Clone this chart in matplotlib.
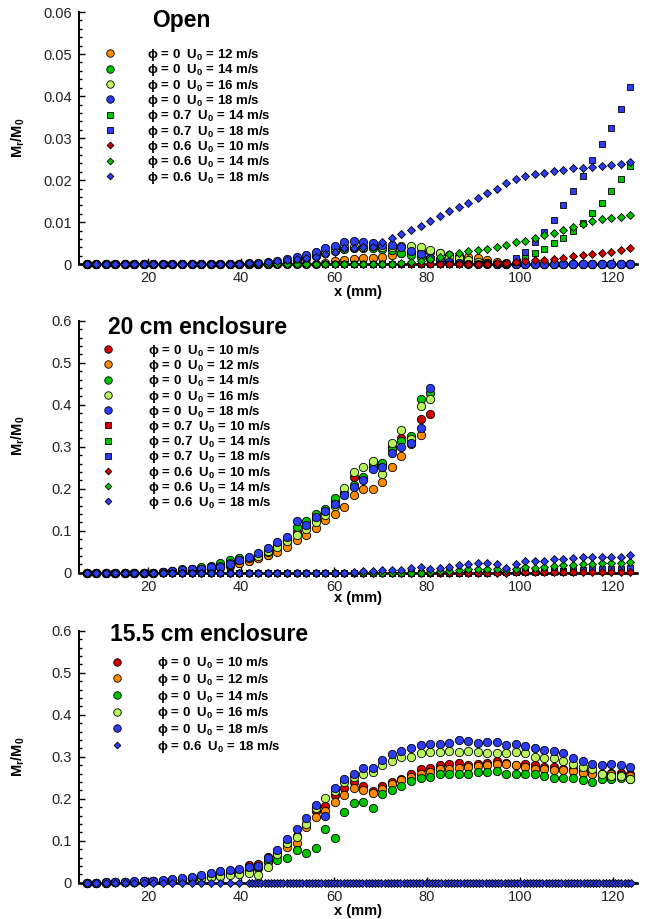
import matplotlib.pyplot as plt
import matplotlib.ticker as mticker
import numpy as np

plt.rcParams.update({
    'font.family': ['Liberation Sans', 'DejaVu Sans'],
    'mathtext.fontset': 'custom',
    'mathtext.rm': 'Liberation Sans',
    'mathtext.bf': 'Liberation Sans:bold',
    'axes.unicode_minus': False,
})

# probe stations along the jet axis (mm)
X = [6.7, 8.8, 10.8, 12.9, 14.9, 17.0, 19.0, 21.1, 23.1, 25.2,
     27.2, 29.3, 31.3, 33.4, 35.4, 37.5, 39.5, 41.6, 43.7, 45.7,
     47.8, 49.8, 51.9, 53.9, 56.0, 58.0, 60.1, 62.1, 64.2, 66.2,
     68.3, 70.3, 72.4, 74.4, 76.5, 78.6, 80.6, 82.7, 84.7, 86.8,
     88.8, 90.9, 92.9, 95.0, 97.0, 99.1, 101.1, 103.2, 105.2, 107.3,
     109.3, 111.4, 113.5, 115.5, 117.6, 119.6, 121.7, 123.7]

# ---------------- Open ----------------
open_p0_u12 = [0, 0, 0, 0, 0, 0, 0, 0, 0, 0,
               0, 0, 0, 0, 0, 0, 0, 0, 0, 0,
               0, 0, 0, 0, 0, .0004, .0007, .0010, .0012, .0014,
               .0015, .0018, .0021, .0026, .0029, .0030, .0030, .0027, .0023, .0019,
               .0017, .0014, .0010, .0006, .0003, 0, 0, 0, 0, 0,
               0, 0, 0, 0, 0, 0, 0, 0]
open_p0_u14 = [0, 0, 0, 0, 0, 0, 0, 0, 0, 0,
               0, 0, 0, 0, 0, 0, 0, 0, 0, 0,
               .0003, .0006, .0010, .0015, .0020, .0026, .0032, .0036, .0038, .0039,
               .0038, .0036, .0033, .0028, .0022, .0018, .0014, .0011, .0009, .0007,
               .0005, .0003, .0002, 0, 0, 0, 0, 0, 0, 0,
               0, 0, 0, 0, 0, 0, 0, 0]
open_p0_u16 = [0, 0, 0, 0, 0, 0, 0, 0, 0, 0,
               0, 0, 0, 0, 0, 0, 0, 0, 0, 0,
               .0004, .0008, .0012, .0017, .0022, .0028, .0034, .0040, .0041, .0042,
               .0043, .0042, .0041, .0043, .0043, .0040, .0034, .0028, .0020, .0014,
               .0010, .0006, .0003, 0, 0, 0, 0, 0, 0, 0,
               0, 0, 0, 0, 0, 0, 0, 0]
open_p0_u18 = [0, 0, 0, 0, 0, 0, 0, 0, 0, 0,
               0, 0, 0, 0, 0, 0, 0, .0003, .0004, .0006,
               .0009, .0013, .0018, .0023, .0030, .0038, .0044, .0052, .0056, .0054,
               .0051, .0047, .0045, .0040, .0032, .0024, .0016, .0010, .0006, .0003,
               0, 0, 0, 0, 0, 0, 0, 0, 0, 0,
               0, 0, 0, 0, 0, 0, 0, 0]
open_p07_u14 = [0, 0, 0, 0, 0, 0, 0, 0, 0, 0,
                0, 0, 0, 0, 0, 0, 0, 0, 0, 0,
                0, 0, 0, 0, 0, 0, 0, 0, 0, 0,
                0, 0, 0, 0, 0, 0, 0, 0, 0, 0,
                0, 0, 0, 0, 0, .0005, .0014, .0026, .0037, .0050,
                .0062, .0079, .0099, .0121, .0145, .0174, .0203, .0233]
open_p07_u18 = [0, 0, 0, 0, 0, 0, 0, 0, 0, 0,
                0, 0, 0, 0, 0, 0, 0, 0, 0, 0,
                0, 0, 0, 0, 0, 0, 0, 0, 0, 0,
                0, 0, 0, 0, 0, 0, 0, 0, 0, 0,
                0, 0, 0, 0, .0003, .0016, .0030, .0052, .0078, .0105,
                .0141, .0174, .0211, .0248, .0286, .0324, .0370, .0421]
open_p06_u10 = [0, 0, 0, 0, 0, 0, 0, 0, 0, 0,
                0, 0, 0, 0, 0, 0, 0, 0, 0, 0,
                0, 0, 0, 0, 0, 0, 0, 0, 0, 0,
                0, 0, 0, 0, 0, 0, 0, 0, 0, 0,
                0, 0, 0, .0002, .0003, .0005, .0007, .0010, .0011, .0013,
                .0015, .0019, .0021, .0024, .0027, .0030, .0033, .0038]
open_p06_u14 = [0, 0, 0, 0, 0, 0, 0, 0, 0, 0,
                0, 0, 0, 0, 0, 0, 0, 0, 0, 0,
                0, 0, 0, 0, 0, 0, 0, 0, 0, 0,
                0, 0, 0, .0003, .0006, .0009, .0013, .0018, .0024, .0028,
                .0031, .0035, .0037, .0042, .0047, .0052, .0055, .0063, .0069, .0075,
                .0082, .0088, .0097, .0102, .0107, .0110, .0112, .0117]
open_p06_u18 = [0, 0, 0, 0, 0, 0, 0, 0, 0, 0,
                0, 0, 0, 0, 0, 0, 0, .0002, .0004, .0006,
                .0008, .0010, .0013, .0016, .0018, .0024, .0030, .0038, .0038, .0040,
                .0042, .0052, .0063, .0071, .0082, .0092, .0103, .0114, .0126, .0136,
                .0145, .0158, .0169, .0178, .0193, .0202, .0209, .0215, .0217, .0223,
                .0225, .0229, .0230, .0231, .0235, .0237, .0239, .0243]

# ---------------- 20 cm enclosure ----------------
mid_p0_u10 = [0, 0, 0, 0, 0, 0, 0, 0, .001, .002,
              .004, .006, .008, .010, .013, .017, .022, .028, .034, .042,
              .058, .072, .098, .112, .130, .148, .170, .188, .227, .225,
              .262, .258, .300, .320, .312, .367, .378]
mid_p0_u12 = [0, 0, 0, 0, 0, 0, 0, 0, .001, .002,
              .004, .006, .008, .010, .014, .018, .022, .028, .034, .042,
              .050, .062, .079, .090, .106, .125, .139, .157, .186, .199,
              .199, .217, .252, .279, .306, .328]
mid_p0_u14 = [0, 0, 0, 0, 0, 0, 0, 0, .002, .004,
              .008, .010, .013, .016, .022, .030, .034, .036, .042, .050,
              .066, .079, .108, .122, .139, .151, .179, .190, .210, .228,
              .255, .262, .295, .314, .326, .414, .427]
mid_p0_u16 = [0, 0, 0, 0, 0, 0, 0, 0, .001, .003,
              .005, .008, .010, .012, .016, .024, .030, .034, .040, .052,
              .062, .075, .090, .105, .121, .137, .160, .201, .241, .252,
              .267, .235, .310, .340, .318, .397, .414]
mid_p0_u18 = [0, 0, 0, 0, 0, 0, 0, 0, .002, .004,
              .006, .008, .010, .013, .014, .020, .030, .038, .046, .058,
              .072, .085, .124, .114, .133, .147, .163, .186, .205, .221,
              .248, .251, .284, .300, .310, .345, .441]
mid_p07_u10 = [0, 0, 0, 0, 0, 0, 0, 0, 0, 0,
               0, 0, 0, 0, 0, 0, 0, 0, 0, 0,
               0, 0, 0, 0, 0, 0, 0, 0, 0, 0,
               0, 0, 0, 0, 0, 0, 0, 0, 0, 0,
               .001, .001, .001, .001, .001, .002, .002, .002, .002, .002,
               .002, .002, .003, .003, .003, .003, .003, .003]
mid_p07_u14 = [0, 0, 0, 0, 0, 0, 0, 0, 0, 0,
               0, 0, 0, 0, 0, 0, 0, 0, 0, 0,
               0, 0, 0, 0, 0, 0, 0, 0, 0, 0,
               0, 0, 0, 0, 0, 0, 0, 0, .001, .002,
               .002, .002, .002, .002, .002, .003, .003, .003, .004, .004,
               .004, .004, .005, .005, .005, .005, .006, .006]
mid_p07_u18 = [0, 0, 0, 0, 0, 0, 0, 0, 0, 0,
               0, 0, 0, 0, 0, 0, 0, 0, 0, 0,
               0, 0, 0, 0, 0, 0, 0, 0, 0, 0,
               0, 0, 0, 0, 0, 0, 0, 0, 0, 0,
               0, 0, 0, .001, .001, .002, .003, .003, .004, .004,
               .005, .006, .007, .008, .010, .010, .010, .012]
mid_p06_u10 = [0, 0, 0, 0, 0, 0, 0, 0, 0, 0,
               0, 0, 0, 0, 0, 0, 0, 0, 0, 0,
               0, 0, 0, 0, 0, 0, 0, 0, 0, 0,
               0, 0, 0, 0, 0, 0, 0, 0, 0, 0,
               0, 0, 0, 0, 0, .001, .001, .001, .001, .001,
               .001, .001, .002, .002, .002, .002, .002, .002]
mid_p06_u14 = [0, 0, 0, 0, 0, 0, 0, 0, 0, 0,
               0, 0, 0, 0, 0, 0, 0, 0, 0, 0,
               0, 0, 0, 0, 0, 0, 0, 0, 0, 0,
               0, 0, 0, 0, 0, 0, .002, .004, .005, .006,
               .008, .008, .009, .009, .006, .010, .014, .012, .014, .016,
               .018, .018, .020, .020, .022, .022, .022, .026]
mid_p06_u18 = [0, 0, 0, 0, 0, 0, 0, 0, 0, 0,
               0, 0, 0, 0, 0, 0, 0, 0, 0, 0,
               0, 0, 0, 0, 0, 0, 0, 0, .002, .005,
               .004, .006, .006, .007, .012, .014, .008, .012, .014, .018,
               .020, .022, .022, .020, .012, .020, .028, .028, .028, .032,
               .032, .036, .038, .038, .038, .038, .038, .042]

# ---------------- 15.5 cm enclosure ----------------
bot_p0_u10 = [0, 0, .001, .001, .002, .002, .003, .004, .005, .007,
              .009, .011, .014, .018, .022, .026, .030, .042, .045, .062,
              .075, .092, .111, .140, .170, .183, .210, .225, .239, .231,
              .218, .231, .240, .248, .260, .270, .272, .280, .282, .284,
              .280, .282, .286, .290, .284, .280, .282, .280, .276, .275,
              .270, .270, .268, .262, .260, .262, .262, .258]
bot_p0_u12 = [0, 0, 0, .001, .001, .002, .002, .003, .004, .005,
              .006, .008, .010, .014, .018, .022, .026, .030, .036, .050,
              .065, .086, .095, .133, .157, .171, .191, .209, .226, .221,
              .214, .223, .236, .244, .252, .259, .264, .270, .270, .272,
              .276, .278, .280, .283, .283, .280, .276, .270, .270, .268,
              .268, .266, .262, .258, .258, .258, .256, .254]
bot_p0_u14 = [0, 0, 0, .001, .001, .002, .002, .003, .004, .006,
              .008, .010, .012, .014, .016, .020, .022, .028, .038, .052,
              .054, .058, .078, .071, .082, .128, .106, .169, .190, .193,
              .179, .211, .221, .231, .241, .250, .252, .258, .258, .258,
              .258, .263, .263, .266, .260, .260, .258, .258, .255, .250,
              .250, .250, .244, .240, .248, .248, .250, .247]
bot_p0_u16 = [0, 0, 0, .001, .001, .002, .003, .004, .005, .006,
              .008, .010, .012, .014, .016, .018, .020, .022, .018, .038,
              .068, .094, .110, .140, .177, .202, .218, .240, .252, .260,
              .264, .280, .290, .300, .300, .308, .312, .312, .314, .312,
              .314, .312, .308, .310, .310, .312, .310, .300, .298, .296,
              .290, .283, .276, .270, .258, .255, .255, .248]
bot_p0_u18 = [0, 0, .001, .001, .002, .003, .004, .005, .007, .009,
              .011, .014, .018, .024, .028, .030, .033, .037, .040, .058,
              .079, .103, .128, .153, .185, .160, .225, .246, .260, .274,
              .274, .292, .306, .314, .320, .328, .330, .330, .333, .340,
              .337, .333, .336, .336, .328, .330, .325, .320, .316, .314,
              .308, .298, .290, .283, .280, .283, .280, .276]
# phi = 0.6 run sits on zero everywhere; finer probe spacing beyond ~42 mm
bot_diam_x = X[:18] + list(np.round(np.arange(42.3, 124.0, 0.68), 2))
bot_p06_u18 = [0.0] * len(bot_diam_x)

RED = '#d40000'
ORANGE = '#ff8a00'
GREEN = '#00c400'
LIME = '#b8f55a'
BLUE = '#2b3df2'

TXT = ['Liberation Sans', 'DejaVu Sans']


def lab(phi, u):
    return f'ϕ = {phi}  U$_\\mathbf{{0}}$ = {u} m/s'


def pts(ax, x, y, marker, color, label, ms):
    ax.plot(x[:len(y)], y, ls='none', marker=marker, ms=ms, mfc=color,
            mec='black', mew=0.6, clip_on=False, zorder=3, label=label)


def circ(ax, y, color, label, x=X):
    pts(ax, x, y, 'o', color, label, 6.0)


def sq(ax, y, color, label, x=X):
    pts(ax, x, y, 's', color, label, 4.2)


def diam(ax, y, color, label, x=X):
    pts(ax, x, y, 'D', color, label, 3.8)


def style(ax, yticks, ylab_y, xlab_y):
    ax.set_xlim(5.07, 125.2)
    ax.set_ylim(yticks[0], yticks[-1])
    ax.set_xticks([20, 40, 60, 80, 100, 120])
    ax.set_yticks(yticks)
    ax.yaxis.set_major_formatter(mticker.FuncFormatter(
        lambda v, p: '0' if abs(v) < 1e-12 else f'{v:g}'))
    ax.xaxis.set_minor_locator(mticker.AutoMinorLocator(5))
    ax.yaxis.set_minor_locator(mticker.AutoMinorLocator(5))
    ax.tick_params(which='both', direction='in', top=False, right=False,
                   color='black', width=1.0, labelsize=10.5,
                   labelcolor='#222222', pad=5)
    ax.tick_params(which='major', length=4)
    ax.tick_params(which='minor', length=2.2)
    for s in ('top', 'right'):
        ax.spines[s].set_visible(False)
    ax.spines['left'].set_linewidth(1.4)
    ax.spines['bottom'].set_linewidth(1.9)
    ax.set_xlabel('x (mm)', fontsize=10.5, fontweight='bold')
    ax.set_ylabel(r'M$_\mathbf{r}$/M$_\mathbf{0}$', fontsize=10.5,
                  fontweight='bold')
    ax.xaxis.set_label_coords(0.5, xlab_y)
    ax.yaxis.set_label_coords(-0.093, ylab_y)


def legend(ax, x0, y0, pad, spacing):
    ax.legend(loc='upper left', bbox_to_anchor=(x0, y0), frameon=False,
              borderpad=0, borderaxespad=0, handlelength=1.0,
              handletextpad=pad, labelspacing=spacing, markerscale=0.9,
              prop={'family': TXT, 'weight': 'bold', 'size': 9.5})


fig = plt.figure(figsize=(6.62, 9.19), dpi=100)
left, width = 0.1193, 0.8429
ax1 = fig.add_axes([left, 0.7124, width, 0.2745])
ax2 = fig.add_axes([left, 0.3768, width, 0.2742])
ax3 = fig.add_axes([left, 0.0395, width, 0.2742])

# Open
circ(ax1, open_p0_u12, ORANGE, lab(0, 12))
circ(ax1, open_p0_u14, GREEN, lab(0, 14))
circ(ax1, open_p0_u16, LIME, lab(0, 16))
circ(ax1, open_p0_u18, BLUE, lab(0, 18))
sq(ax1, open_p07_u14, GREEN, lab(0.7, 14))
sq(ax1, open_p07_u18, BLUE, lab(0.7, 18))
diam(ax1, open_p06_u10, RED, lab(0.6, 10))
diam(ax1, open_p06_u14, GREEN, lab(0.6, 14))
diam(ax1, open_p06_u18, BLUE, lab(0.6, 18))
style(ax1, [0, 0.01, 0.02, 0.03, 0.04, 0.05, 0.06], 0.5, -0.082)
legend(ax1, 0.0437, 0.862, 2.3, -0.05)
ax1.text(0.131, 0.968, 'Open', transform=ax1.transAxes, ha='left',
         va='center', fontsize=16.5, fontweight='bold')

# 20 cm enclosure
circ(ax2, mid_p0_u10, RED, lab(0, 10))
circ(ax2, mid_p0_u12, ORANGE, lab(0, 12))
circ(ax2, mid_p0_u14, GREEN, lab(0, 14))
circ(ax2, mid_p0_u16, LIME, lab(0, 16))
circ(ax2, mid_p0_u18, BLUE, lab(0, 18))
sq(ax2, mid_p07_u10, RED, lab(0.7, 10))
sq(ax2, mid_p07_u14, GREEN, lab(0.7, 14))
sq(ax2, mid_p07_u18, BLUE, lab(0.7, 18))
diam(ax2, mid_p06_u10, RED, lab(0.6, 10))
diam(ax2, mid_p06_u14, GREEN, lab(0.6, 14))
diam(ax2, mid_p06_u18, BLUE, lab(0.6, 18))
style(ax2, [0, 0.1, 0.2, 0.3, 0.4, 0.5, 0.6], 0.542, -0.073)
legend(ax2, 0.0401, 0.912, 2.53, -0.06)
ax2.text(0.052, 0.975, '20 cm enclosure', transform=ax2.transAxes,
         ha='left', va='center', fontsize=16.5, fontweight='bold')

# 15.5 cm enclosure
circ(ax3, bot_p0_u10, RED, lab(0, 10))
circ(ax3, bot_p0_u12, ORANGE, lab(0, 12))
circ(ax3, bot_p0_u14, GREEN, lab(0, 14))
circ(ax3, bot_p0_u16, LIME, lab(0, 16))
circ(ax3, bot_p0_u18, BLUE, lab(0, 18))
diam(ax3, bot_p06_u18, BLUE, lab(0.6, 18), x=bot_diam_x)
style(ax3, [0, 0.1, 0.2, 0.3, 0.4, 0.5, 0.6], 0.5, -0.085)
legend(ax3, 0.0563, 0.902, 2.53, 0.05)
ax3.text(0.056, 0.983, '15.5 cm enclosure', transform=ax3.transAxes,
         ha='left', va='center', fontsize=16.5, fontweight='bold')

fig.savefig('out.png', dpi=100)
